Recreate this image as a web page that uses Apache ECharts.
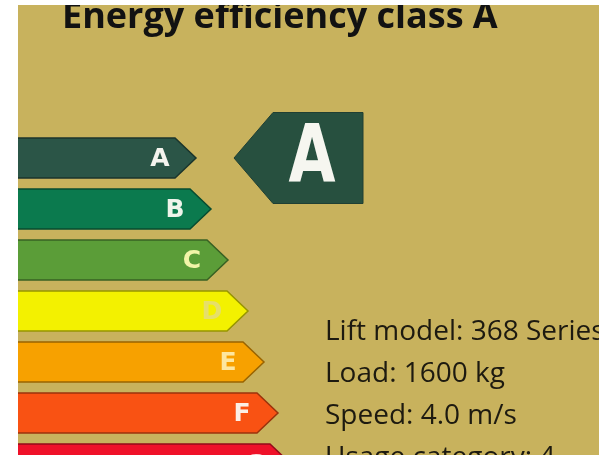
<!DOCTYPE html>
<html>
<head>
<meta charset="utf-8">
<script src="https://cdn.jsdelivr.net/npm/echarts@6/dist/echarts.min.js"></script>
<style>html,body{margin:0;padding:0;background:#fff}#c{width:610px;height:457px}</style>
</head>
<body>
<div id="c"></div>
<script>
// ---- data ----
var classes = ['A', 'B', 'C', 'D', 'E', 'F', 'G'];
var barLengths = [157, 172, 189, 209, 225, 239, 252];
var barColors = ['#2b5547', '#0b7a4e', '#5b9d38', '#f3f100', '#f7a100', '#f95213', '#ef1129'];
var letterColors = ['#f4f4ee', '#eef4ea', '#f2f4a8', '#e6df6a', '#fde7a0', '#fbeee6', '#fbe0e0'];
var ratedClass = ['A'];
var titleText = 'Energy efficiency class A';
var infoLines = ['Lift model: 368 Series', 'Load: 1600 kg', 'Speed: 4.0 m/s', 'Usage category: 4'];

var chart = echarts.init(document.getElementById('c'), null, {renderer: 'canvas'});

function shade(hex, f) {
  var n = parseInt(hex.slice(1), 16);
  var r = Math.round(((n >> 16) & 255) * f), g = Math.round(((n >> 8) & 255) * f), b = Math.round((n & 255) * f);
  return 'rgb(' + r + ',' + g + ',' + b + ')';
}

var barData = barLengths.map(function (v, i) { return [v, i]; });
var markData = ratedClass.map(function (c) { return [0, classes.indexOf(c)]; });

var option = {
  animation: false,
  backgroundColor: '#ffffff',
  grid: {left: 18, right: 12, top: 132.5, bottom: 0, containLabel: false},
  xAxis: {type: 'value', min: 0, max: 580, show: false},
  yAxis: {type: 'value', min: -0.5, max: 5.8627, inverse: true, show: false},
  graphic: [
    {type: 'rect', left: 18, top: 5, z: -10, silent: true,
     shape: {width: 581, height: 452}, style: {fill: '#c8b25d'}},
    {type: 'text', left: 62, top: 0, z: 10,
     style: {text: titleText, fill: '#121212', font: 'bold 36px "Open Sans"'}},
    {type: 'rect', left: 0, top: 0, z: 100, silent: true,
     shape: {width: 610, height: 5}, style: {fill: '#ffffff'}},
    {type: 'rect', left: 599, top: 0, z: 100, silent: true,
     shape: {width: 11, height: 457}, style: {fill: '#ffffff'}},
    {type: 'rect', left: 0, top: 455, z: 100, silent: true,
     shape: {width: 610, height: 2}, style: {fill: '#ffffff'}}
  ].concat(infoLines.map(function (t, i) {
    return {type: 'text', left: 325, top: 318 + i * 42, z: 10,
            style: {text: t, fill: '#1d1a10', font: '28px "Open Sans"'}};
  })),
  series: [
    {
      type: 'custom',
      coordinateSystem: 'cartesian2d',
      clip: true,
      data: barData,
      renderItem: function (params, api) {
        var i = api.value(1);
        var start = api.coord([0, i]);
        var end = api.coord([api.value(0), i]);
        var band = api.size([0, 1])[1];
        var h = band * 0.785;
        var yc = start[1];
        var tip = 21;
        var pts = [[start[0] - 2, yc - h / 2], [end[0], yc - h / 2], [end[0] + tip, yc], [end[0], yc + h / 2], [start[0] - 2, yc + h / 2]];
        var col = barColors[i];
        return {
          type: 'group',
          children: [
            {type: 'polygon', shape: {points: pts},
             style: {fill: col, stroke: shade(col, 0.62), lineWidth: 1.5}},
            {type: 'text', x: end[0] - 15, y: yc + 1,
             style: {text: classes[i], fill: letterColors[i], font: 'bold 25px "DejaVu Sans"',
                     align: 'center', verticalAlign: 'middle'}}
          ]
        };
      }
    },
    {
      type: 'custom',
      coordinateSystem: 'cartesian2d',
      clip: false,
      data: markData,
      renderItem: function (params, api) {
        var i = api.value(1);
        var p = api.coord([0, i]);
        var yc = p[1];
        var h = 91;
        var xTip = 234, xL = 273, xR = 363;
        return {
          type: 'group',
          children: [
            {type: 'polygon', shape: {points: [[xTip, yc], [xL, yc - h / 2], [xR, yc - h / 2], [xR, yc + h / 2], [xL, yc + h / 2]]},
             style: {fill: '#27503f', stroke: '#203f33', lineWidth: 1}},
            {type: 'text', x: 312, y: yc + 3, scaleX: 0.76,
             style: {text: classes[i], fill: '#f6f6f0', font: 'bold 80px "DejaVu Sans"',
                     align: 'center', verticalAlign: 'middle'}}
          ]
        };
      }
    }
  ]
};
chart.setOption(option);
</script>
</body>
</html>
